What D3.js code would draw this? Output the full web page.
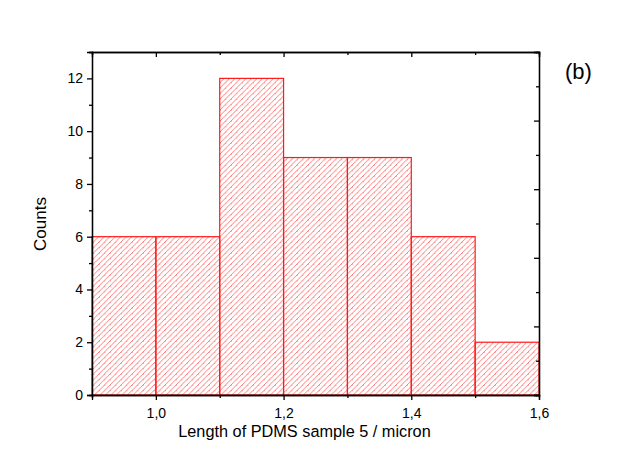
<!DOCTYPE html>
<html>
<head>
<meta charset="utf-8">
<script src="https://cdn.jsdelivr.net/npm/d3@7"></script>
<style>
  body { margin: 0; background: #fff; }
  text { font-family: Arial, "Liberation Sans", sans-serif; fill: #000; }
</style>
</head>
<body>
<svg id="chart" width="619" height="473"></svg>
<script>
// bin edges and counts
let binStart = [0.9, 1.0, 1.1, 1.2, 1.3, 1.4, 1.5];
let binEnd   = [1.0, 1.1, 1.2, 1.3, 1.4, 1.5, 1.6];
let counts   = [6, 6, 12, 9, 9, 6, 2];
let xTicks = [1.0, 1.2, 1.4, 1.6];
let xMinor = [0.9, 1.1, 1.3, 1.5];
let yTicks = [0, 2, 4, 6, 8, 10, 12];
let yMinor = [1, 3, 5, 7, 9, 11, 13];

var svg = d3.select("#chart");
var plotLeft = 92, plotRight = 539, plotTop = 52, plotBottom = 395;

var x = d3.scaleLinear().domain([0.9, 1.6]).range([plotLeft, plotRight]);
var y = d3.scaleLinear().domain([0, 13]).range([plotBottom, plotTop]);
// right frame has its own tick spacing (10 steps)
var yRight = d3.scaleLinear().domain([0, 10]).range([plotBottom, plotTop]);

var fmt = function(d) { return d3.format(".1f")(d).replace(".", ","); };

// hatch pattern
var defs = svg.append("defs");
var pat = defs.append("pattern")
    .attr("id", "hatch")
    .attr("patternUnits", "userSpaceOnUse")
    .attr("width", 5.5).attr("height", 5.5);
pat.append("path")
    .attr("d", "M-1,1.5 l2.5,-2.5 M0,5.5 l5.5,-5.5 M4,7 l2.5,-2.5")
    .style("stroke", "#ff3b3b")
    .style("stroke-width", 0.9)
    .style("opacity", 0.75);

var bins = counts.map(function(c, i) { return {x0: binStart[i], x1: binEnd[i], n: c}; });

svg.append("g")
    .selectAll("rect")
    .data(bins)
    .enter().append("rect")
    .attr("x", function(d) { return x(d.x0); })
    .attr("y", function(d) { return y(d.n); })
    .attr("width", function(d) { return x(d.x1) - x(d.x0); })
    .attr("height", function(d) { return y(0) - y(d.n); })
    .style("fill", "url(#hatch)")
    .style("stroke", "#ff1a1a")
    .style("stroke-width", "1.2px");

// axes
svg.append("g")
    .attr("transform", "translate(0," + plotBottom + ")")
    .call(d3.axisBottom(x).tickValues(xTicks).tickFormat(fmt).tickSize(5).tickPadding(8));
svg.append("g")
    .attr("transform", "translate(0," + plotBottom + ")")
    .call(d3.axisBottom(x).tickValues(xMinor).tickFormat("").tickSize(3));

svg.append("g")
    .attr("transform", "translate(" + plotLeft + ",0)")
    .call(d3.axisLeft(y).tickValues(yTicks).tickSize(5).tickPadding(4));
svg.append("g")
    .attr("transform", "translate(" + plotLeft + ",0)")
    .call(d3.axisLeft(y).tickValues(yMinor).tickFormat("").tickSize(3));

svg.append("g")
    .attr("transform", "translate(0," + plotTop + ")")
    .call(d3.axisBottom(x).tickValues(xTicks).tickFormat("").tickSize(5));
svg.append("g")
    .attr("transform", "translate(0," + plotTop + ")")
    .call(d3.axisBottom(x).tickValues(xMinor).tickFormat("").tickSize(3));

svg.append("g")
    .attr("transform", "translate(" + plotRight + ",0)")
    .call(d3.axisLeft(yRight).tickValues([0, 2, 4, 6, 8, 10]).tickFormat("").tickSize(5));
svg.append("g")
    .attr("transform", "translate(" + plotRight + ",0)")
    .call(d3.axisLeft(yRight).tickValues([1, 3, 5, 7, 9]).tickFormat("").tickSize(3));

svg.selectAll(".domain").style("stroke", "#000").style("stroke-width", "1.3px");
svg.selectAll(".tick line").style("stroke", "#000").style("stroke-width", "1.3px");
svg.selectAll(".tick text")
    .attr("font-size", 14)
    .style("font-size", "14px")
    .style("fill", "#000")
    .style("font-family", "Arial, 'Liberation Sans', sans-serif");

// labels
svg.append("text")
    .attr("transform", "translate(46,224) rotate(-90)")
    .attr("text-anchor", "middle")
    .style("font-size", "17px")
    .text("Counts");

svg.append("text")
    .attr("x", (plotLeft + plotRight) / 2 - 11)
    .attr("y", 437)
    .attr("text-anchor", "middle")
    .style("font-size", "16.3px")
    .text("Length of PDMS sample 5 / micron");

svg.append("text")
    .attr("x", 565)
    .attr("y", 79)
    .style("font-size", "22px")
    .text("(b)");
</script>
</body>
</html>
